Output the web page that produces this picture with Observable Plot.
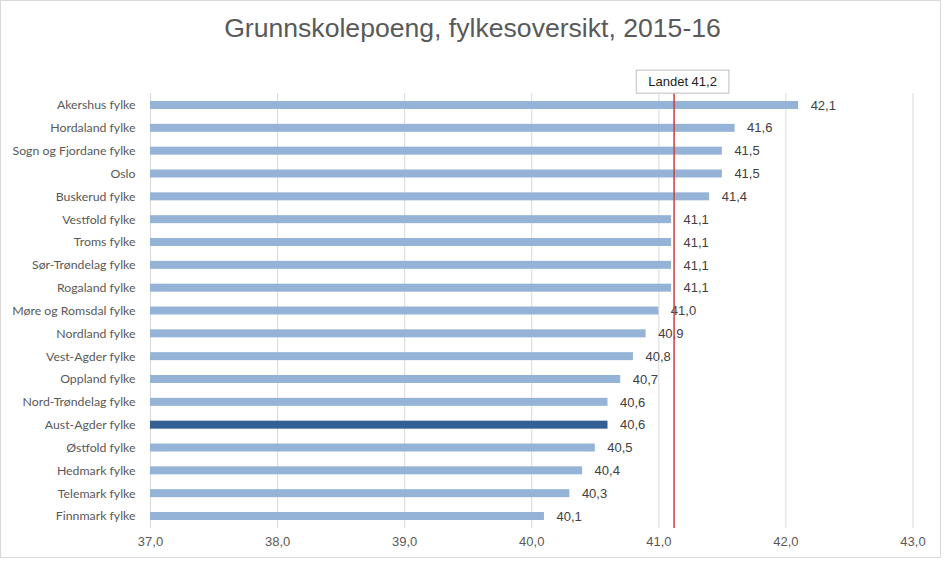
<!DOCTYPE html>
<html>
<head>
<meta charset="utf-8">
<script src="https://cdn.jsdelivr.net/npm/d3@7"></script>
<script src="https://cdn.jsdelivr.net/npm/@observablehq/plot@0.6"></script>
<style>
  html, body { margin: 0; padding: 0; background: #fff; }
  #wrap { position: relative; width: 944px; height: 561px; overflow: hidden; }
  #frame { position: absolute; left: 0; top: 0; width: 941px; height: 558px; box-sizing: border-box; border: 1px solid #d9d9d9; }
  #title { position: absolute; left: 0; top: 14.5px; width: 945px; text-align: center;
           font-family: "Liberation Sans", Arial, sans-serif; font-size: 26.6px; line-height: 26px; color: #595959; }
  #chart { position: absolute; left: 0; top: 0; }
  #chart svg { background: transparent; overflow: visible; }
</style>
</head>
<body>
<div id="wrap">
  <div id="frame"></div>
  <div id="chart"></div>
  <div id="title">Grunnskolepoeng, fylkesoversikt, 2015-16</div>
</div>
<script>
const fylker = [
  "Akershus fylke", "Hordaland fylke", "Sogn og Fjordane fylke", "Oslo", "Buskerud fylke",
  "Vestfold fylke", "Troms fylke", "Sør-Trøndelag fylke", "Rogaland fylke", "Møre og Romsdal fylke",
  "Nordland fylke", "Vest-Agder fylke", "Oppland fylke", "Nord-Trøndelag fylke", "Aust-Agder fylke",
  "Østfold fylke", "Hedmark fylke", "Telemark fylke", "Finnmark fylke"
];
const poeng = [42.1, 41.6, 41.5, 41.5, 41.4, 41.1, 41.1, 41.1, 41.1, 41.0, 40.9, 40.8, 40.7, 40.6, 40.6, 40.5, 40.4, 40.3, 40.1];
const xTicks = [37, 38, 39, 40, 41, 42, 43];
const xDomain = [37, 43];
const highlight = "Aust-Agder fylke";
const landet = 41.12;
const landetLabel = ["Landet 41,2"];

const data = fylker.map((name, i) => ({name, value: poeng[i]}));
const comma = v => d3.format(".1f")(v).replace(".", ",");

const light = "#95b3d7", dark = "#335f95";

const svg = Plot.plot({
  width: 944,
  height: 561,
  marginTop: 93,
  marginBottom: 33,
  marginLeft: 150,
  marginRight: 31.5,
  style: {fontFamily: "Liberation Sans, Arial, sans-serif", fontSize: "13px", color: "#595959", background: "transparent"},
  x: {domain: xDomain, ticks: xTicks, tickFormat: comma, label: null},
  y: {domain: fylker, paddingInner: 0.65, paddingOuter: 0.35, round: false, label: null},
  marks: [
    Plot.ruleX(xTicks, {stroke: "#d9d9d9", strokeWidth: 1}),
    Plot.barX(data, {x1: xDomain[0], x2: "value", y: "name",
      fill: d => d.name === highlight ? dark : light}),
    Plot.text(data, {x: "value", y: "name", text: d => comma(d.value), dx: 12,
      textAnchor: "start", fill: "#404040", fontSize: 13}),
    Plot.ruleX([landet], {stroke: "#c9403c", strokeWidth: 1.5}),
    Plot.text(landetLabel, {x: () => landet, text: d => d, frameAnchor: "top", dy: -11.5, dx: 8.5,
      fill: "#222", fontSize: 13, lineAnchor: "middle"}),
    Plot.axisX({ticks: xTicks, tickFormat: comma, tickSize: 0, tickPadding: 8, fill: "#595959", fontSize: 13, label: null}),
    Plot.axisY({tickSize: 0, tickPadding: 15, fontFamily: "Lato, sans-serif", fontSize: 12.3, fill: "#595959", label: null})
  ]
});

document.getElementById("chart").appendChild(svg);

// white box with grey outline behind the national-average label
Array.from(svg.querySelectorAll("text"))
  .filter(t => t.textContent.trim() === landetLabel[0])
  .forEach(t => {
    const b = t.getBBox();
    const padX = 12, padY = 4;
    const r = document.createElementNS("http://www.w3.org/2000/svg", "rect");
    r.setAttribute("x", b.x - padX);
    r.setAttribute("y", b.y - padY);
    r.setAttribute("width", b.width + 2 * padX);
    r.setAttribute("height", b.height + 2 * padY);
    r.setAttribute("fill", "#fff");
    r.setAttribute("stroke", "#bfbfbf");
    r.setAttribute("stroke-width", "1");
    const tr = t.getAttribute("transform");
    if (tr) r.setAttribute("transform", tr);
    t.parentNode.insertBefore(r, t);
  });
</script>
</body>
</html>
